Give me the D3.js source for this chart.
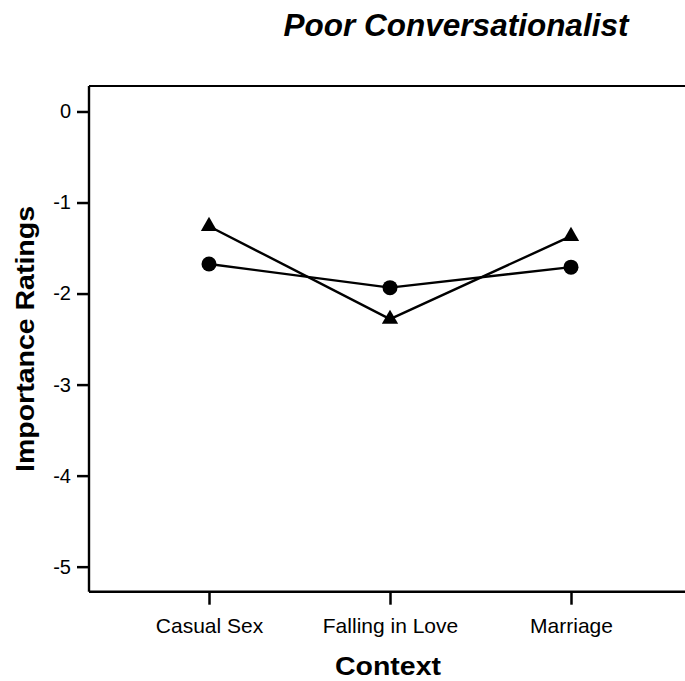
<!DOCTYPE html>
<html>
<head>
<meta charset="UTF-8">
<title></title>
<style>
  body { margin: 0; background: #fff; }
  text { font-family: "Liberation Sans", Arial, sans-serif; fill: #000; }
</style>
</head>
<body>
<svg width="685" height="681"></svg>
<script src="https://cdn.jsdelivr.net/npm/d3@7/dist/d3.min.js"></script>
<script>
var contexts = ["Casual Sex", "Falling in Love", "Marriage"];
var triangleVals = [-1.26, -2.28, -1.37];
var circleVals = [-1.675, -1.935, -1.71];
var yTicks = [0, -1, -2, -3, -4, -5];

var svg = d3.select("svg");

// plot box runs off the right edge, like the original
var plotL = 89, plotR = 691, plotT = 86, plotB = 591.7;

var x = d3.scalePoint().domain(contexts).range([plotL, plotR]).padding(0.663);
var y = d3.scaleLinear().domain([-5.275, 0.28]).range([plotB, plotT]);

// frame: top line
svg.append("line")
  .attr("x1", plotL).attr("x2", plotR)
  .attr("y1", plotT).attr("y2", plotT)
  .attr("stroke", "#000").attr("stroke-width", 2.2);

var yAxis = svg.append("g")
  .attr("transform", "translate(" + plotL + ",0)")
  .call(d3.axisLeft(y).tickValues(yTicks).tickSize(12).tickPadding(6)
    .tickFormat(function(d) { return String(d); }));
yAxis.select(".domain").attr("d", "M0," + plotT + "V" + plotB).attr("stroke-width", 2.4);
yAxis.selectAll(".tick line").attr("stroke-width", 2.5);
yAxis.selectAll("text").attr("font-size", 20).attr("font-family", "Liberation Sans, Arial, sans-serif");

var xAxis = svg.append("g")
  .attr("transform", "translate(0," + plotB + ")")
  .call(d3.axisBottom(x).tickSize(13).tickPadding(13));
xAxis.select(".domain").attr("d", "M" + plotL + ",0H" + plotR).attr("stroke-width", 2.4);
xAxis.selectAll(".tick line").attr("stroke-width", 2.5);
xAxis.selectAll("text").attr("font-size", 21).attr("font-family", "Liberation Sans, Arial, sans-serif");

var line = d3.line()
  .x(function(d, i) { return x(contexts[i]); })
  .y(function(d) { return y(d); });

[circleVals, triangleVals].forEach(function(vals) {
  svg.append("path")
    .datum(vals)
    .attr("fill", "none")
    .attr("stroke", "#000")
    .attr("stroke-width", 2.4)
    .attr("d", line);
});

// circles
svg.selectAll("circle.pt")
  .data(circleVals)
  .enter().append("circle")
  .attr("class", "pt")
  .attr("cx", function(d, i) { return x(contexts[i]); })
  .attr("cy", function(d) { return y(d); })
  .attr("r", 7.5)
  .attr("fill", "#000");

// triangles
var tri = d3.symbol().type(d3.symbolTriangle).size(115);
svg.selectAll("path.tri")
  .data(triangleVals)
  .enter().append("path")
  .attr("class", "tri")
  .attr("d", tri)
  .attr("transform", function(d, i) { return "translate(" + x(contexts[i]) + "," + y(d) + ")"; })
  .attr("fill", "#000");

// titles
svg.append("text")
  .attr("x", 456).attr("y", 36)
  .attr("text-anchor", "middle")
  .attr("font-size", 31.5)
  .attr("font-weight", "bold")
  .attr("font-style", "italic")
  .text("Poor Conversationalist");

svg.append("text")
  .attr("x", 388).attr("y", 675)
  .attr("text-anchor", "middle")
  .attr("font-size", 25)
  .attr("font-weight", "bold")
  .attr("textLength", 106)
  .attr("lengthAdjust", "spacingAndGlyphs")
  .text("Context");

svg.append("text")
  .attr("transform", "translate(34,339) rotate(-90)")
  .attr("text-anchor", "middle")
  .attr("font-size", 25)
  .attr("font-weight", "bold")
  .attr("textLength", 266)
  .attr("lengthAdjust", "spacingAndGlyphs")
  .text("Importance Ratings");
</script>
</body>
</html>
